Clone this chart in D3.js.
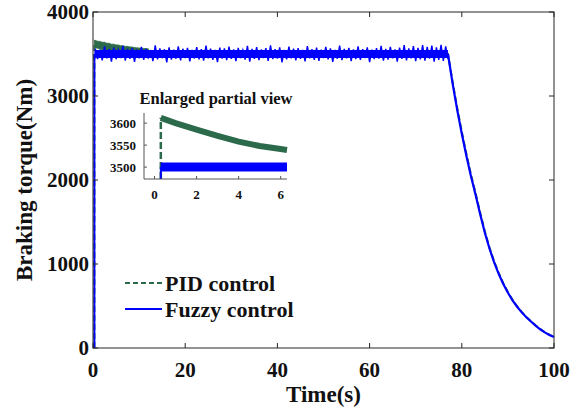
<!DOCTYPE html>
<html><head><meta charset="utf-8">
<script src="https://cdn.jsdelivr.net/npm/d3@7"></script>
<style>
html,body{margin:0;padding:0;background:#fff;}
svg{display:block;}
text{font-family:"Liberation Serif","Times New Roman",serif;font-weight:bold;}
</style></head>
<body>
<svg id="c" width="580" height="408"></svg>
<script>
// ---------------- data ----------------
const xTicks = [0, 20, 40, 60, 80, 100];
const yTicks = [0, 1000, 2000, 3000, 4000];
const seriesNames = ["PID control", "Fuzzy control"];

// steady state of the fuzzy controller: mean level and sampled noise (every 0.5 s from 0.5 s to 77 s)
const fuzzyMeanTime = [0.3, 77];
const fuzzyMean = [3500, 3500];
const noiseStart = 0.5, noiseStep = 0.5;
const fuzzyNoise = [
  3565,3440,3552,3425,3590,3447,3558,3410,3575,3438,3549,3452,3598,3421,3561,3443,3570,3405,3553,3449,
  3585,3430,3560,3446,3547,3415,3604,3437,3566,3450,3556,3399,3579,3433,3551,3444,3592,3424,3562,3451,
  3572,3412,3548,3447,3583,3436,3557,3421,3600,3448,3563,3430,3550,3404,3577,3445,3568,3427,3589,3441,
  3554,3416,3574,3450,3547,3433,3596,3408,3560,3443,3581,3428,3553,3452,3569,3419,3602,3439,3557,3446,
  3578,3401,3550,3435,3587,3449,3563,3423,3571,3442,3548,3411,3594,3447,3559,3431,3576,3418,3552,3451,
  3584,3437,3566,3406,3549,3444,3599,3426,3561,3448,3573,3415,3555,3440,3590,3429,3558,3452,3580,3403,
  3551,3438,3570,3446,3597,3420,3562,3434,3586,3449,3554,3410,3575,3441,3605,3425,3567,3447,3593,3414,
  3572,3436,3606,3421,3584,3445,3600,3408,3579,3430,3608,3419,3590,3440];

// PID noisy overshoot at the start
const pidBandTime = [0.3,1,1.5,2,2.5,3,3.5,4,4.5,5,5.5,6,6.5,7,7.5,8,8.5,9,10,11,12];
const pidUpper = [3665,3652,3650,3640,3640,3628,3628,3617,3617,3607,3608,3598,3599,3590,3591,3583,3584,3576,3571,3566,3562];
const pidLower = [3575,3568,3560,3552,3548,3542,3536,3532,3528,3522,3518,3514,3510,3508,3505,3503,3502,3500,3500,3500,3500];

// rise + mean value of the PID curve
const pidStartTime = [0.3,0.3,1,2,3,4,6,8,10,15,20,77];
const pidStart = [0,3620,3600,3585,3571,3558,3541,3530,3520,3506,3502,3500];
// rise of the fuzzy curve
const fuzzyStartTime = [0.3,0.3];
const fuzzyStart = [0,3500];

// release phase
const dropTime = [77,78,79,80,81,82,83,84,85,86,87,88,89,90,91,92,93,94,95,96,97,98,99,100];
const fuzzyDrop = [3500,3150,2835,2550,2286,2041,1822,1590,1372,1184,1022,882,762,658,568,491,424,366,316,267,223,186,156,130];
const pidDrop = [3500,3170,2860,2575,2310,2062,1842,1608,1388,1198,1034,893,771,666,575,497,429,370,320,270,226,188,158,132];

// inset (enlarged partial view)
const insetXTicks = [0, 2, 4, 6];
const insetYTicks = [3500, 3550, 3600];
const insetTime = [0.3,1,2,3,4,5,6,6.3];
const insetPid = [3612,3600,3585,3571,3558,3548,3541,3539];
const insetFuzzyTime = [0.3,6.3];
const insetFuzzy = [3500,3500];
const insetRiseTime = [0.3,0.3];
const insetPidRise = [3473,3612];
const insetFuzzyRise = [3473,3500];

// ---------------- drawing ----------------
const GREEN = "#2b6a4a", BLUE = "#0000ff", AX = "#262626";
const svg = d3.select("#c");
const L = 93, R = 554, T = 12, B = 348;
const x = d3.scaleLinear().domain([0, 100]).range([L, R]);
const y = d3.scaleLinear().domain([0, 4000]).range([B, T]);

const zip = (ts, vs) => ts.map((t, i) => [t, vs[i]]);
const line = (sx, sy) => d3.line().x(d => sx(d[0])).y(d => sy(d[1]));

// PID band
svg.append("path")
  .datum(pidBandTime.map((t, i) => [t, pidUpper[i], pidLower[i]]))
  .attr("d", d3.area().x(d => x(d[0])).y0(d => y(d[2])).y1(d => y(d[1])))
  .attr("fill", GREEN).attr("stroke", GREEN).attr("stroke-width", 0.8);
// PID dashed line
svg.append("path")
  .datum(zip(pidStartTime, pidStart).concat(zip(dropTime, pidDrop)))
  .attr("d", line(x, y)).attr("fill", "none")
  .attr("stroke", GREEN).attr("stroke-width", 2).attr("stroke-dasharray", "6,3");

// Fuzzy core + noise
svg.append("path").datum(zip(fuzzyMeanTime, fuzzyMean))
  .attr("d", line(x, y)).attr("fill", "none").attr("stroke", BLUE).attr("stroke-width", 8);
svg.append("path")
  .datum(fuzzyNoise.map((v, i) => [noiseStart + i * noiseStep, v]))
  .attr("d", line(x, y)).attr("fill", "none").attr("stroke", BLUE).attr("stroke-width", 1.4);
// Fuzzy rise & drop
svg.append("path").datum(zip(fuzzyStartTime, fuzzyStart))
  .attr("d", line(x, y)).attr("fill", "none").attr("stroke", BLUE).attr("stroke-width", 2);
svg.append("path").datum(zip(dropTime, fuzzyDrop))
  .attr("d", line(x, y)).attr("fill", "none").attr("stroke", BLUE).attr("stroke-width", 2.2);

// main axes box
svg.append("rect").attr("x", L).attr("y", T).attr("width", R - L).attr("height", B - T)
  .attr("fill", "none").attr("stroke", AX).attr("stroke-width", 1);
const tk = 5;
xTicks.forEach(v => {
  svg.append("line").attr("x1", x(v)).attr("x2", x(v)).attr("y1", B).attr("y2", B - tk).attr("stroke", AX);
  svg.append("line").attr("x1", x(v)).attr("x2", x(v)).attr("y1", T).attr("y2", T + tk).attr("stroke", AX);
  svg.append("text").attr("x", x(v)).attr("y", 377).attr("text-anchor", "middle")
    .attr("font-size", 21).attr("fill", "#111").text(v);
});
yTicks.forEach(v => {
  svg.append("line").attr("x1", L).attr("x2", L + tk).attr("y1", y(v)).attr("y2", y(v)).attr("stroke", AX);
  svg.append("line").attr("x1", R).attr("x2", R - tk).attr("y1", y(v)).attr("y2", y(v)).attr("stroke", AX);
  svg.append("text").attr("x", 89).attr("y", y(v)).attr("dy", "0.34em").attr("text-anchor", "end")
    .attr("font-size", 21).attr("fill", "#111").text(v);
});
svg.append("text").attr("x", (L + R) / 2).attr("y", 402).attr("text-anchor", "middle")
  .attr("font-size", 23).attr("fill", "#111").text("Time(s)");
svg.append("text").attr("transform", `translate(32,${(T + B) / 2}) rotate(-90)`)
  .attr("text-anchor", "middle").attr("font-size", 23).attr("fill", "#111").text("Braking torque(Nm)");

// legend
const lg = [{name: seriesNames[0], color: GREEN, dash: "5,3", y: 283},
            {name: seriesNames[1], color: BLUE, dash: null, y: 309}];
lg.forEach(d => {
  svg.append("line").attr("x1", 125).attr("x2", 162).attr("y1", d.y).attr("y2", d.y)
    .attr("stroke", d.color).attr("stroke-width", 2).attr("stroke-dasharray", d.dash);
  svg.append("text").attr("x", 165).attr("y", d.y + 7.5).attr("font-size", 22)
    .attr("fill", "#111").text(d.name);
});

// ---------------- inset ----------------
const iL = 144, iR = 287, iT = 113, iB = 179;
const ix = d3.scaleLinear().domain([-0.5, 6.3]).range([iL, iR]);
const iy = d3.scaleLinear().domain([3473, 3623]).range([iB, iT]);
const IAX = "#555";
svg.append("rect").attr("x", iL).attr("y", iT).attr("width", iR - iL).attr("height", iB - iT).attr("fill", "#fff");
svg.append("path").datum(zip(insetTime, insetPid)).attr("d", line(ix, iy))
  .attr("fill", "none").attr("stroke", GREEN).attr("stroke-width", 6);
svg.append("path").datum(zip(insetRiseTime, insetPidRise)).attr("d", line(ix, iy))
  .attr("fill", "none").attr("stroke", GREEN).attr("stroke-width", 2.5).attr("stroke-dasharray", "7,3");
svg.append("path").datum(zip(insetFuzzyTime, insetFuzzy)).attr("d", line(ix, iy))
  .attr("fill", "none").attr("stroke", BLUE).attr("stroke-width", 9);
svg.append("path").datum(zip(insetRiseTime, insetFuzzyRise)).attr("d", line(ix, iy))
  .attr("fill", "none").attr("stroke", BLUE).attr("stroke-width", 2);
svg.append("line").attr("x1", iL).attr("x2", iL).attr("y1", iT).attr("y2", iB).attr("stroke", IAX);
svg.append("line").attr("x1", iL).attr("x2", iR).attr("y1", iB).attr("y2", iB).attr("stroke", IAX);
insetXTicks.forEach(v => {
  svg.append("line").attr("x1", ix(v)).attr("x2", ix(v)).attr("y1", iB).attr("y2", iB - 3).attr("stroke", IAX);
  svg.append("text").attr("x", ix(v)).attr("y", 199).attr("text-anchor", "middle")
    .attr("font-size", 13).attr("fill", "#111").text(v);
});
insetYTicks.forEach(v => {
  svg.append("line").attr("x1", iL).attr("x2", iL + 3).attr("y1", iy(v)).attr("y2", iy(v)).attr("stroke", IAX);
  svg.append("text").attr("x", 136).attr("y", iy(v)).attr("dy", "0.34em").attr("text-anchor", "end")
    .attr("font-size", 13).attr("fill", "#111").text(v);
});
svg.append("text").attr("x", 216).attr("y", 104).attr("text-anchor", "middle")
  .attr("font-size", 16.5).attr("fill", "#111").text("Enlarged partial view");
</script>
</body></html>
